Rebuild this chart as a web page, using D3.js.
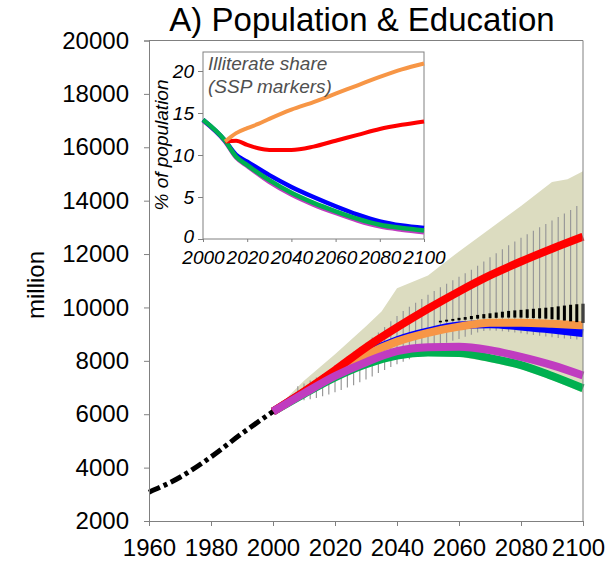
<!DOCTYPE html>
<html><head><meta charset="utf-8">
<script src="https://cdn.jsdelivr.net/npm/d3@7/dist/d3.min.js"></script>
<style>
body{margin:0;background:#fff}
svg{display:block}
text{font-family:"Liberation Sans",Arial,sans-serif}
</style>
</head><body>
<svg id="chart" width="605" height="565"></svg>
<script>
// ---------- DATA ----------
const histYears = [1960, 1970, 1980, 1990, 2000];
const histPop   = [3080, 3640, 4400, 5280, 6100];

const projYears = [2000, 2010, 2020, 2030, 2040, 2050, 2060, 2070, 2080, 2090, 2100];
const popSSP1 = [6100, 6760, 7380, 7870, 8200, 8310, 8290, 8100, 7840, 7430, 6970];   // green
const popSSP2 = [6100, 6830, 7580, 8260, 8770, 9100, 9320, 9370, 9290, 9170, 9040];   // blue
const popSSP3 = [6100, 6850, 7650, 8500, 9250, 9950, 10600, 11200, 11720, 12200, 12650]; // red
const popSSP4 = [6100, 6820, 7550, 8220, 8720, 9050, 9280, 9430, 9430, 9390, 9330];   // orange
const popSSP5 = [6100, 6780, 7430, 7950, 8360, 8510, 8530, 8400, 8150, 7840, 7450];   // magenta

const bandYears = [2000, 2010, 2020, 2030, 2035, 2040, 2050, 2060, 2070, 2080, 2090, 2095, 2100];
const bandHigh  = [6100, 7250, 8250, 9300, 9850, 10720, 11200, 12100, 12950, 13800, 14700, 14800, 15100];
const bandLow   = [6050, 6650, 7250, 7750, 7930, 8080, 8180, 8150, 7960, 7690, 7280, 7050, 6800];

const rangeYears = d3.range(2008, 2099, 2);
const rangeHigh = [7050, 7150, 7260, 7380, 7510, 7660, 7830, 8000, 8170, 8340,
                   8510, 8680, 8870, 9060, 9270, 9480, 9680, 9870, 10030, 10180,
                   10320, 10480, 10620, 10760, 10890, 11020, 11150, 11280, 11410, 11560,
                   11720, 11880, 12030, 12180, 12330, 12470, 12610, 12740, 12870, 13000,
                   13130, 13260, 13390, 13520, 13650, 13800];
const rangeLow  = [6500, 6520, 6560, 6610, 6670, 6740, 6820, 6910, 7000, 7090,
                   7200, 7300, 7410, 7540, 7660, 7770, 7870, 7970, 8060, 8140,
                   8220, 8420, 8520, 8600, 8680, 8750, 8820, 8900, 8980, 9060,
                   9120, 9140, 9130, 9110, 9090, 9060, 9030, 9000, 8970, 8940,
                   8910, 8880, 8860, 8840, 8820, 8800];

const innerYears = d3.range(2054, 2101, 2);
const innerHigh = [9500, 9540, 9570, 9610, 9640, 9680, 9720, 9750, 9780, 9810, 9840, 9870,
                   9890, 9910, 9930, 9950, 9970, 9990, 10010, 10040, 10070, 10100, 10120, 10140];
const innerLow  = [9440, 9470, 9500, 9520, 9540, 9560, 9580, 9590, 9600, 9610, 9620, 9620,
                   9620, 9620, 9610, 9600, 9590, 9580, 9560, 9540, 9510, 9480, 9450, 9420];

const yTicks = [2000, 4000, 6000, 8000, 10000, 12000, 14000, 16000, 18000, 20000];
const xTicks = [1960, 1980, 2000, 2020, 2040, 2060, 2080, 2100];

// inset: illiterate share (% of population)
const illYearsA = [2000, 2010, 2015, 2020, 2030, 2040, 2050, 2060, 2070, 2080, 2090, 2100];
const illSSP1 = [14.2, 11.7, 9.8, 8.8, 7.0, 5.5, 4.3, 3.3, 2.4, 1.7, 1.3, 1.0];
const illSSP2 = [14.2, 11.7, 10.0, 9.2, 7.6, 6.2, 5.0, 3.9, 2.9, 2.1, 1.6, 1.3];
const illSSP5 = [14.1, 11.6, 9.7, 8.7, 6.8, 5.3, 4.1, 3.1, 2.2, 1.5, 1.1, 0.8];
const illYearsB = [2010, 2015, 2020, 2025, 2030, 2040, 2050, 2060, 2070, 2080, 2090, 2100];
const illSSP3 = [11.6, 11.7, 11.2, 10.8, 10.6, 10.6, 11.0, 11.7, 12.4, 13.1, 13.6, 14.0];
const illSSP4 = [11.6, 12.6, 13.2, 13.7, 14.3, 15.4, 16.3, 17.3, 18.3, 19.3, 20.2, 20.9];
const insetXTicks = [2000, 2020, 2040, 2060, 2080, 2100];
const insetYTicks = [0, 5, 10, 15, 20];

const colors = {ssp1: "#00b050", ssp2: "#0000ff", ssp3: "#ff0000", ssp4: "#f79646", ssp5: "#c03cc0"};

// ---------- DRAW ----------
const svg = d3.select("#chart");
const axisCol = "#808080";

const x = d3.scaleLinear().domain([1960, 2100]).range([149, 583]);
const y = d3.scaleLinear().domain([2000, 20000]).range([521, 40.5]);

// band
svg.append("path")
  .datum(bandYears.map((yr, i) => [yr, bandLow[i], bandHigh[i]]))
  .attr("fill", "#dcdcc0")
  .attr("d", d3.area().x(d => x(d[0])).y0(d => y(d[1])).y1(d => y(d[2])));

// gray range bars
svg.append("g").selectAll("line").data(rangeYears).join("line")
  .attr("x1", d => x(d)).attr("x2", d => x(d))
  .attr("y1", (d, i) => y(rangeLow[i])).attr("y2", (d, i) => y(rangeHigh[i]))
  .attr("stroke", "#999").attr("stroke-width", 1.2);

// projection lines
const line = d3.line().x((d, i) => x(projYears[i])).y(d => y(d)).curve(d3.curveMonotoneX);
[[popSSP1, colors.ssp1], [popSSP2, colors.ssp2], [popSSP4, colors.ssp4],
 [popSSP3, colors.ssp3], [popSSP5, colors.ssp5]].forEach(([s, c]) => {
  svg.append("path").datum(s).attr("fill", "none").attr("stroke", c)
    .attr("stroke-width", 8).attr("d", line);
});

// black inner bars
svg.append("g").selectAll("rect").data(innerYears).join("rect")
  .attr("x", d => x(d) - 1.5).attr("width", 3)
  .attr("y", (d, i) => y(innerHigh[i]))
  .attr("height", (d, i) => y(innerLow[i]) - y(innerHigh[i]))
  .attr("fill", "#000");

// historical dash-dot
svg.append("path").datum(histPop).attr("fill", "none").attr("stroke", "#000")
  .attr("stroke-width", 5).attr("stroke-dasharray", "12,4,4,4")
  .attr("d", d3.line().x((d, i) => x(histYears[i])).y(d => y(d)).curve(d3.curveMonotoneX));

// frame
svg.append("line").attr("x1", x(1960)).attr("x2", x(2100)).attr("y1", y(20000)).attr("y2", y(20000)).attr("stroke", axisCol);
svg.append("line").attr("x1", x(2100)).attr("x2", x(2100)).attr("y1", y(20000)).attr("y2", y(2000)).attr("stroke", axisCol);

// axes
const gy = svg.append("g").attr("transform", `translate(${x(1960)},0)`)
  .call(d3.axisLeft(y).tickValues(yTicks).tickFormat(d3.format("d")).tickSize(5).tickPadding(15));
const gx = svg.append("g").attr("transform", `translate(0,${y(2000)})`)
  .call(d3.axisBottom(x).tickValues(xTicks).tickFormat(d3.format("d")).tickSize(5).tickPadding(13));
[gy, gx].forEach(g => {
  g.selectAll("path, line").attr("stroke", axisCol);
  g.selectAll("text").attr("font-size", 24).attr("fill", "#000")
    .attr("font-family", '"Liberation Sans",Arial,sans-serif');
});
gx.selectAll(".tick text").filter(d => d === 2100).attr("dx", -5);

svg.append("text").attr("transform", "translate(44,285) rotate(-90)")
  .attr("text-anchor", "middle").attr("font-size", 24).text("million");

svg.append("text").attr("x", 362).attr("y", 31).attr("text-anchor", "middle")
  .attr("font-size", 33).text("A) Population & Education");

// ---------- INSET ----------
const ix = d3.scaleLinear().domain([2000, 2100]).range([203, 424]);
const iy = d3.scaleLinear().domain([0, 20]).range([239, 71]);
svg.append("rect").attr("x", 203).attr("y", 52).attr("width", 221).attr("height", 187)
  .attr("fill", "#fff").attr("stroke", axisCol);

const ilineA = d3.line().x((d, i) => ix(illYearsA[i])).y(d => iy(d)).curve(d3.curveMonotoneX);
const ilineB = d3.line().x((d, i) => ix(illYearsB[i])).y(d => iy(d)).curve(d3.curveMonotoneX);
svg.append("path").datum(illSSP5).attr("fill", "none").attr("stroke", colors.ssp5).attr("stroke-width", 4.5).attr("d", ilineA);
svg.append("path").datum(illSSP2).attr("fill", "none").attr("stroke", colors.ssp2).attr("stroke-width", 4.5).attr("d", ilineA);
svg.append("path").datum(illSSP1).attr("fill", "none").attr("stroke", colors.ssp1).attr("stroke-width", 4.5).attr("d", ilineA);
svg.append("path").datum(illSSP3).attr("fill", "none").attr("stroke", colors.ssp3).attr("stroke-width", 4).attr("d", ilineB);
svg.append("path").datum(illSSP4).attr("fill", "none").attr("stroke", colors.ssp4).attr("stroke-width", 4).attr("d", ilineB);

const igx = svg.append("g").attr("transform", `translate(0,239)`)
  .call(d3.axisBottom(ix).tickValues(insetXTicks).tickFormat(d3.format("d")).tickSize(3).tickPadding(9));
const igy = svg.append("g").attr("transform", `translate(203,0)`)
  .call(d3.axisLeft(iy).tickValues(insetYTicks).tickSize(5).tickPadding(4));
[igx, igy].forEach(g => {
  g.select(".domain").remove();
  g.selectAll("line").attr("stroke", axisCol);
  g.selectAll("text").attr("font-size", 19).attr("font-style", "italic").attr("fill", "#000")
    .attr("font-family", '"Liberation Sans",Arial,sans-serif');
});
igy.selectAll(".tick text").filter(d => d === 0).attr("dy", "0.2em");

svg.append("text").attr("transform", "translate(168,145) rotate(-90)")
  .attr("text-anchor", "middle").attr("font-size", 19).attr("font-style", "italic")
  .text("% of population");

svg.append("text").attr("x", 208).attr("y", 70).attr("font-size", 19)
  .attr("font-style", "italic").attr("fill", "#505050").text("Illiterate share");
svg.append("text").attr("x", 208).attr("y", 93).attr("font-size", 19)
  .attr("font-style", "italic").attr("fill", "#505050").text("(SSP markers)");
</script>
</body></html>
